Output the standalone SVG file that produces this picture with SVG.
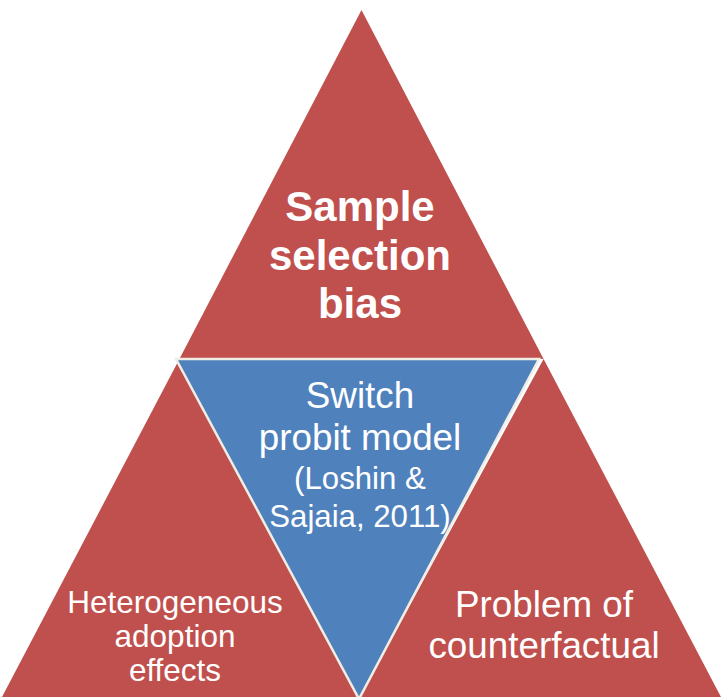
<svg xmlns="http://www.w3.org/2000/svg" width="722" height="697" viewBox="0 0 722 697">
  <style>
    .red { fill: #C0504D; }
    .blue { fill: #4F81BD; stroke: #F0EEE4; stroke-width: 2.5; stroke-linejoin: miter; }
    .lbl { fill: #FFFFFF; font-family: "Liberation Sans", Arial, sans-serif; text-anchor: middle; }
    .bold { font-weight: bold; }
  </style>
  <rect width="722" height="697" fill="#FFFFFF"/>

  <g id="sample-selection-bias">
    <polygon class="red" points="361.5,10 179.4,359 543.6,359"/>
    <text class="lbl bold" font-size="42" x="360" y="221">Sample</text>
    <text class="lbl bold" font-size="42" x="360" y="270">selection</text>
    <text class="lbl bold" font-size="42" x="360" y="318">bias</text>
  </g>

  <g id="heterogeneous-adoption-effects">
    <polygon class="red" points="179.4,359 2,697 360,697"/>
    <text class="lbl" font-size="31.5" x="175" y="613">Heterogeneous</text>
    <text class="lbl" font-size="31.5" x="175" y="647">adoption</text>
    <text class="lbl" font-size="31.5" x="175" y="681">effects</text>
  </g>

  <g id="problem-of-counterfactual">
    <polygon class="red" points="543.6,359 360,697 721,697"/>
    <text class="lbl" font-size="36.8" x="544" y="617">Problem of</text>
    <text class="lbl" font-size="36.8" x="544" y="658">counterfactual</text>
  </g>

  <g id="switch-probit-model">
    <polygon class="blue" points="176,359 539,359 359,699"/>
    <text class="lbl" font-size="36.8" x="360" y="408">Switch</text>
    <text class="lbl" font-size="36.8" x="360" y="450">probit model</text>
    <text class="lbl" font-size="31.2" x="360" y="489">(Loshin &amp;</text>
    <text class="lbl" font-size="31.2" x="360" y="527">Sajaia, 2011)</text>
  </g>

  <g id="connectors"/>
</svg>
